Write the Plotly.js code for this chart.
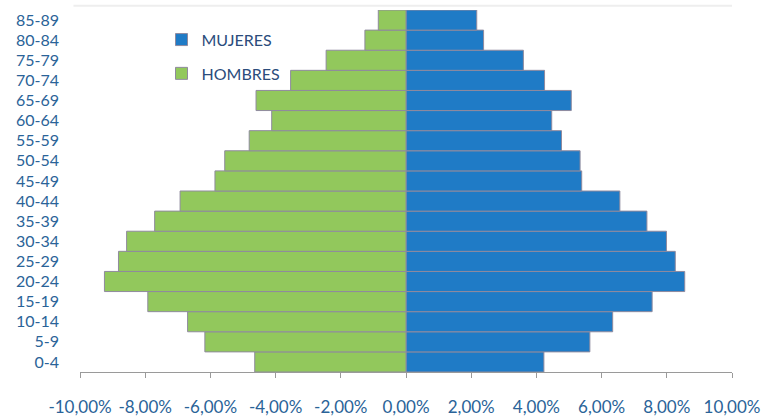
<!DOCTYPE html>
<html>
<head>
<meta charset="utf-8">
<script src="https://cdn.plot.ly/plotly-3.0.1.min.js"></script>
<style>html,body{margin:0;padding:0;background:#fff;}#chart{width:763px;height:419px;}</style>
</head>
<body>
<div id="chart"></div>
<script>
const ageGroups = ["0-4","5-9","10-14","15-19","20-24","25-29","30-34","35-39","40-44","45-49","50-54","55-59","60-64","65-69","70-74","75-79","80-84","85-89"];
const mujeres = [4.23,5.64,6.34,7.55,8.55,8.26,7.99,7.39,6.56,5.39,5.34,4.77,4.47,5.07,4.25,3.60,2.38,2.17];
const hombres = [4.64,6.17,6.70,7.92,9.25,8.82,8.57,7.71,6.93,5.86,5.56,4.81,4.12,4.60,3.54,2.45,1.26,0.85];
const tickValues = [-10,-8,-6,-4,-2,0,2,4,6,8,10];
const tickLabels = ["-10,00%","-8,00%","-6,00%","-4,00%","-2,00%","0,00%","2,00%","4,00%","6,00%","8,00%","10,00%"];

const lineStyle = {color:'#8f8a9e', width:1};
const traces = [
  {type:'bar', orientation:'h', name:'MUJERES', y:ageGroups, x:mujeres,
   marker:{color:'#1f7bc6', line:lineStyle}, legendgroup:'a', hoverinfo:'x+y'},
  {type:'bar', orientation:'h', name:'HOMBRES', y:ageGroups, x:hombres.map(v=>-v),
   marker:{color:'#92c85c', line:lineStyle}, legendgroup:'b', hoverinfo:'x+y'}
];
const layout = {
  width:763, height:419,
  margin:{l:80, r:31, t:10, b:47},
  paper_bgcolor:'#fff', plot_bgcolor:'#fff',
  barmode:'relative', bargap:0,
  font:{family:'Lato, "Open Sans", sans-serif', color:'#2a6398', size:16},
  xaxis:{range:[-10,10], tickvals:tickValues, ticktext:tickLabels, showgrid:false, zeroline:false,
         showline:true, linecolor:'#9a9a9a', linewidth:1, ticks:'outside', ticklen:5, tickcolor:'#9a9a9a',
         ticklabelstandoff:15, tickfont:{size:17, color:'#2a6398'}, fixedrange:true},
  yaxis:{type:'category', range:[-0.5,17.5], showgrid:false, zeroline:false, showline:false, ticks:'',
         ticklabelstandoff:20, tickfont:{size:16, color:'#2a6398'}, fixedrange:true},
  showlegend:true,
  legend:{x:0.125, y:0.965, xanchor:'left', yanchor:'top', bgcolor:'rgba(0,0,0,0)',
          font:{size:16, color:'#2b4c7c'}, tracegroupgap:10, traceorder:'grouped', itemwidth:30},
  shapes:[{type:'line', xref:'paper', yref:'paper', x0:-0.01, x1:1, y0:1.012, y1:1.012,
           line:{color:'#eeeeee', width:2}}]
};
Plotly.newPlot('chart', traces, layout, {displayModeBar:false, staticPlot:true});
</script>
</body>
</html>
